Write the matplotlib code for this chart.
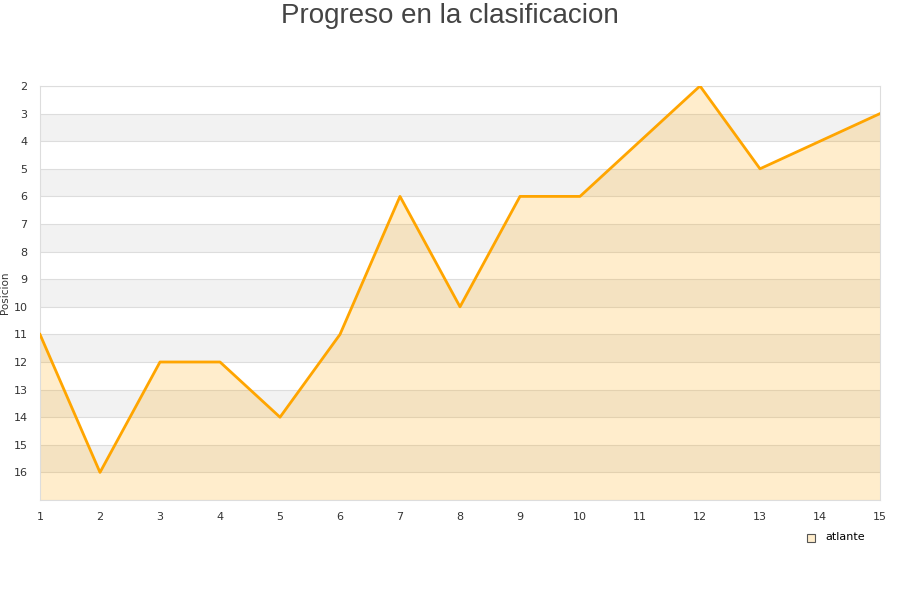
import matplotlib.pyplot as plt

# Datos
jornadas = list(range(1, 16))
posiciones = [11, 16, 12, 12, 14, 11, 6, 10, 6, 6, 4, 2, 5, 4, 3]
equipo = 'atlante'
titulo = 'Progreso en la clasificacion'

fig = plt.figure(figsize=(9, 6), dpi=100)
ax = fig.add_axes([40 / 900, 1 - 500 / 600, 840 / 900, 414 / 600])

# Bandas alternas
for y in range(3, 17, 2):
    ax.axhspan(y, y + 1, color='#f2f2f2', zorder=0, lw=0)
for y in range(2, 18):
    ax.axhline(y, color='#dddddd', lw=0.8, zorder=1)

ax.fill_between(jornadas, posiciones, 17, color='#ffa500', alpha=0.2, lw=0, zorder=2)
ax.plot(jornadas, posiciones, color='#ffa500', lw=2, zorder=3)

ax.set_xlim(1, 15)
ax.set_ylim(17, 2)
ax.set_xticks(jornadas)
ax.set_yticks(range(2, 17))
ax.tick_params(length=0, labelsize=8, colors='#333333')
ax.tick_params(axis='y', pad=9)
ax.tick_params(axis='x', pad=9)
for s in ax.spines.values():
    s.set_color('#dddddd')
ax.set_ylabel('Posicion', fontsize=7.5, color='#333333')
ax.yaxis.set_label_coords(-30 / 840, 0.5)

fig.text(0.5, 1 - 16 / 600, titulo, ha='center', va='center', fontsize=20,
         color='#444444', family='Liberation Sans')

# Leyenda
fig.patches.append(plt.Rectangle((807 / 900, 1 - 542 / 600), 8 / 900, 8 / 600,
                                 transform=fig.transFigure, facecolor='#ffedcc',
                                 edgecolor='#555555', lw=0.8))
fig.text(825 / 900, 1 - 537 / 600, equipo, fontsize=8, va='center', color='#000000')

fig.savefig('out.png', dpi=100)
